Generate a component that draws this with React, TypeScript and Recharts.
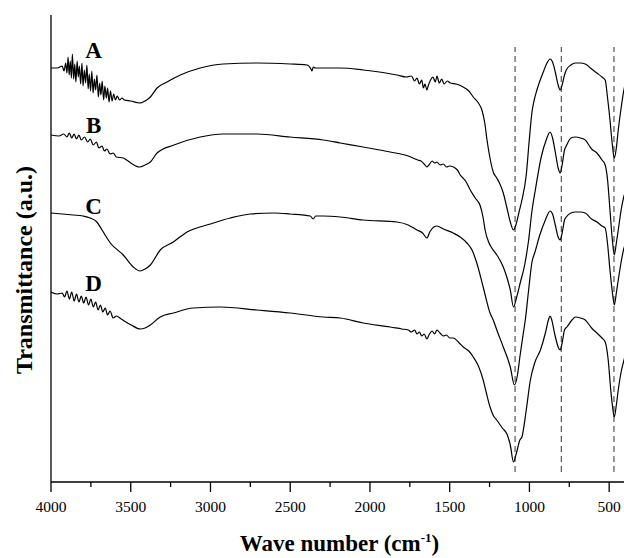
import React from 'react'
import { LineChart, Line, XAxis, YAxis, ReferenceLine, ReferenceDot } from 'recharts'

// FTIR spectra, wavenumber (cm-1) vs transmittance (a.u., offset traces)
const specA: [number, number][] = [
  [4000, 414], [3960, 414], [3930, 416], [3918, 411], [3908, 419], [3900, 409], [3893, 425], [3886, 407],
  [3879, 421], [3872, 404], [3866, 428], [3858, 403], [3851, 418], [3844, 400], [3836, 421], [3829, 405],
  [3822, 416], [3814, 398], [3806, 419], [3799, 396], [3791, 412], [3783, 399], [3775, 417], [3767, 393],
  [3760, 408], [3752, 391], [3744, 411], [3736, 389], [3728, 403], [3720, 392], [3712, 407], [3703, 385],
  [3695, 399], [3687, 387], [3679, 401], [3670, 382], [3662, 396], [3653, 384], [3645, 394], [3636, 380],
  [3627, 391], [3617, 381], [3607, 388], [3596, 382], [3585, 386], [3570, 382], [3555, 384], [3540, 382],
  [3500, 381], [3446, 379], [3400, 382], [3377, 385], [3335, 394], [3273, 400], [3189, 407], [3064, 414],
  [2920, 418], [2708, 419], [2500, 418], [2395, 417], [2370, 413], [2364, 411], [2355, 415], [2343, 414],
  [2293, 414], [2186, 414], [2042, 412], [1900, 409], [1831, 407], [1770, 405], [1740, 406], [1720, 401],
  [1705, 404], [1690, 398], [1675, 402], [1665, 394], [1655, 398], [1643, 392], [1635, 396], [1620, 402],
  [1605, 405], [1590, 400], [1580, 406], [1565, 399], [1550, 403], [1535, 398], [1515, 401], [1496, 399],
  [1460, 398], [1415, 395], [1380, 391], [1352, 385], [1320, 379], [1298, 372], [1280, 359], [1266, 342],
  [1245, 322], [1227, 310], [1205, 304], [1185, 298], [1164, 289], [1141, 274], [1120, 260], [1100, 252],
  [1085, 257], [1065, 270], [1047, 282], [1020, 307], [1001, 342], [984, 370], [970, 382], [953, 392],
  [913, 410], [890, 419], [870, 423], [855, 420], [838, 410], [820, 397], [807, 392], [795, 397],
  [780, 407], [769, 412], [740, 417], [712, 419], [680, 419], [650, 418], [610, 413], [577, 409],
  [545, 405], [525, 402], [510, 384], [495, 362], [480, 337], [468, 324], [455, 334], [443, 352],
  [425, 374], [410, 390], [400, 398],
]

const specB: [number, number][] = [
  [4000, 347], [3950, 346], [3920, 348], [3900, 345], [3885, 349], [3870, 344], [3855, 348], [3840, 343],
  [3825, 347], [3810, 342], [3790, 345], [3770, 340], [3754, 343], [3735, 337], [3715, 340], [3700, 334],
  [3680, 336], [3665, 331], [3649, 333], [3630, 328], [3610, 329], [3590, 325], [3547, 324], [3500, 319],
  [3446, 315], [3410, 317], [3377, 320], [3335, 329], [3229, 337], [3064, 345], [2920, 348], [2708, 348],
  [2500, 345], [2293, 342], [2186, 339], [2042, 335], [1873, 330], [1760, 326], [1730, 324], [1700, 322],
  [1680, 321], [1660, 318], [1643, 315], [1630, 317], [1610, 321], [1595, 319], [1580, 320], [1560, 317],
  [1540, 318], [1520, 315], [1500, 316], [1452, 312], [1434, 307], [1400, 301], [1371, 292], [1340, 284],
  [1308, 276], [1290, 264], [1278, 252], [1256, 240], [1236, 234], [1200, 226], [1164, 215], [1140, 204],
  [1120, 192], [1100, 175], [1080, 185], [1058, 199], [1030, 217], [1005, 242], [985, 270], [963, 292],
  [926, 325], [895, 342], [870, 350], [855, 344], [838, 330], [820, 314], [807, 309], [795, 317],
  [780, 332], [769, 336], [740, 344], [712, 345], [680, 344], [650, 342], [610, 333], [577, 329],
  [545, 322], [525, 317], [510, 302], [495, 272], [480, 242], [468, 227], [455, 239], [443, 252],
  [425, 272], [410, 284], [400, 290],
]

const specC: [number, number][] = [
  [4000, 269], [3930, 268], [3860, 267], [3800, 266], [3754, 264], [3712, 260], [3680, 252], [3628, 239],
  [3547, 227], [3484, 215], [3440, 211], [3410, 213], [3377, 217], [3315, 232], [3233, 240], [3147, 250],
  [3001, 258], [2876, 264], [2750, 268], [2600, 269], [2500, 268], [2374, 266], [2356, 263], [2340, 266],
  [2293, 266], [2186, 265], [2042, 262], [1831, 260], [1760, 257], [1705, 252], [1670, 249], [1643, 244],
  [1625, 250], [1600, 255], [1580, 256], [1540, 253], [1478, 249], [1434, 245], [1392, 239], [1360, 232],
  [1330, 219], [1290, 195], [1247, 169], [1227, 162], [1200, 150], [1164, 135], [1120, 115], [1094, 97],
  [1075, 107], [1060, 125], [1040, 147], [1026, 162], [1005, 192], [984, 220], [965, 230], [935, 247],
  [900, 262], [870, 271], [855, 268], [838, 257], [820, 245], [807, 242], [795, 249], [780, 262],
  [769, 265], [740, 269], [712, 270], [680, 270], [650, 269], [610, 263], [577, 260], [545, 256],
  [525, 254], [510, 238], [495, 212], [480, 190], [468, 177], [455, 189], [443, 202], [425, 220],
  [410, 232], [400, 238],
]

const specD: [number, number][] = [
  [4000, 190], [3960, 188], [3930, 189], [3915, 185], [3900, 191], [3885, 183], [3870, 190], [3855, 181],
  [3840, 188], [3825, 180], [3810, 186], [3795, 179], [3780, 185], [3765, 177], [3750, 183], [3735, 175],
  [3720, 180], [3705, 172], [3690, 177], [3675, 170], [3660, 174], [3645, 167], [3630, 171], [3610, 164],
  [3590, 166], [3560, 163], [3497, 157], [3440, 153], [3410, 154], [3377, 157], [3315, 165], [3233, 169],
  [3108, 174], [2939, 175], [2708, 172], [2500, 169], [2293, 165], [2186, 164], [2042, 159], [1873, 155],
  [1800, 153], [1760, 152], [1740, 150], [1720, 152], [1705, 148], [1690, 150], [1675, 146], [1660, 148],
  [1643, 143], [1630, 147], [1610, 151], [1595, 148], [1580, 152], [1561, 149], [1540, 146], [1520, 147],
  [1500, 144], [1478, 144], [1440, 139], [1415, 135], [1380, 131], [1352, 125], [1320, 116], [1290, 102],
  [1270, 89], [1247, 75], [1225, 66], [1205, 62], [1170, 54], [1141, 48], [1120, 37], [1100, 20],
  [1080, 30], [1060, 42], [1047, 45], [1020, 72], [994, 102], [965, 120], [931, 132], [900, 149],
  [881, 162], [870, 166], [860, 162], [840, 147], [820, 135], [807, 132], [795, 139], [780, 152],
  [765, 155], [733, 162], [712, 165], [680, 164], [650, 162], [610, 154], [577, 149], [545, 144],
  [525, 140], [506, 122], [490, 92], [480, 77], [468, 65], [455, 77], [443, 92], [425, 110],
  [410, 120], [400, 126],
]

const seriesLabels = ['A', 'B', 'C', 'D']
const labelAnchors: [number, number][] = [[3733, 432], [3733, 357], [3733, 276], [3733, 199]]

const bandPositions = [1090, 800, 470]
const bandRange = [10, 435]

const majorTicks = [4000, 3500, 3000, 2500, 2000, 1500, 1000, 500]
const minorTicks = [3750, 3250, 2750, 2250, 1750, 1250, 750]

const serif = '"Liberation Serif", "Times New Roman", serif'

const toRows = (spec: [number, number][]) => spec.map(([wn, t]) => ({ wn, t }))
const allSpecs = [specA, specB, specC, specD]

const AxisTick = (props: any) => {
  const { x, y, payload } = props
  const major = payload.value % 500 === 0
  return (
    <g>
      <line x1={x} y1={y} x2={x} y2={y + (major ? 10 : 5)} stroke="#000" strokeWidth={1.3} />
      {major && (
        <text x={x} y={y + 30} textAnchor="middle" fontFamily={serif} fontSize={15.5} fill="#000">
          {payload.value}
        </text>
      )}
    </g>
  )
}

export default function App() {
  const ticks = [...majorTicks, ...minorTicks].sort((a, b) => b - a)

  return (
    <div style={{ position: 'absolute', left: 0, top: 0, width: 624, height: 558, background: '#fff' }}>
      <LineChart width={624} height={558} margin={{ top: 15, right: 0, left: 0, bottom: 0 }}>
        <XAxis
          dataKey="wn"
          type="number"
          domain={[407, 4000]}
          allowDataOverflow
          reversed
          ticks={ticks}
          interval={0}
          tickSize={0}
          tickMargin={0}
          tick={<AxisTick />}
          axisLine={{ stroke: '#000', strokeWidth: 1.3 }}
          height={76}
          label={{
            content: (p: any) => {
              const vb = p.viewBox
              return (
                <text
                  x={vb.x + vb.width / 2 + 2}
                  y={vb.y + 69}
                  textAnchor="middle"
                  fontFamily={serif}
                  fontSize={23}
                  fontWeight="bold"
                  fill="#000"
                >
                  Wave number (cm
                  <tspan dy={-9} fontSize={13}>-1</tspan>
                  <tspan dy={9}>)</tspan>
                </text>
              )
            },
          }}
        />
        <YAxis
          type="number"
          domain={[0, 467]}
          allowDataOverflow
          tick={false}
          tickLine={false}
          width={51}
          axisLine={{ stroke: '#000', strokeWidth: 1.3 }}
          label={{
            content: () => (
              <text
                x={0}
                y={0}
                transform="translate(32, 270) rotate(-90)"
                textAnchor="middle"
                fontFamily={serif}
                fontSize={24}
                fontWeight="bold"
                fill="#000"
              >
                Transmittance (a.u.)
              </text>
            ),
          }}
        />
        {bandPositions.map((b) => (
          <ReferenceLine
            key={b}
            segment={[{ x: b, y: bandRange[0] }, { x: b, y: bandRange[1] }]}
            stroke="#555"
            strokeWidth={1.2}
            strokeDasharray="6 4"
          />
        ))}
        {allSpecs.map((spec, i) => (
          <Line
            key={seriesLabels[i]}
            data={toRows(spec)}
            dataKey="t"
            type="monotone"
            stroke="#000"
            strokeWidth={1.2}
            dot={false}
            activeDot={false}
            isAnimationActive={false}
          />
        ))}
        {seriesLabels.map((name, i) => (
          <ReferenceDot
            key={name}
            x={labelAnchors[i][0]}
            y={labelAnchors[i][1]}
            r={1}
            fill="none"
            stroke="none"
            label={{
              value: name,
              position: 'center',
              fill: '#000',
              fontSize: 23,
              fontWeight: 'bold',
              fontFamily: serif,
            }}
          />
        ))}
      </LineChart>
    </div>
  )
}
